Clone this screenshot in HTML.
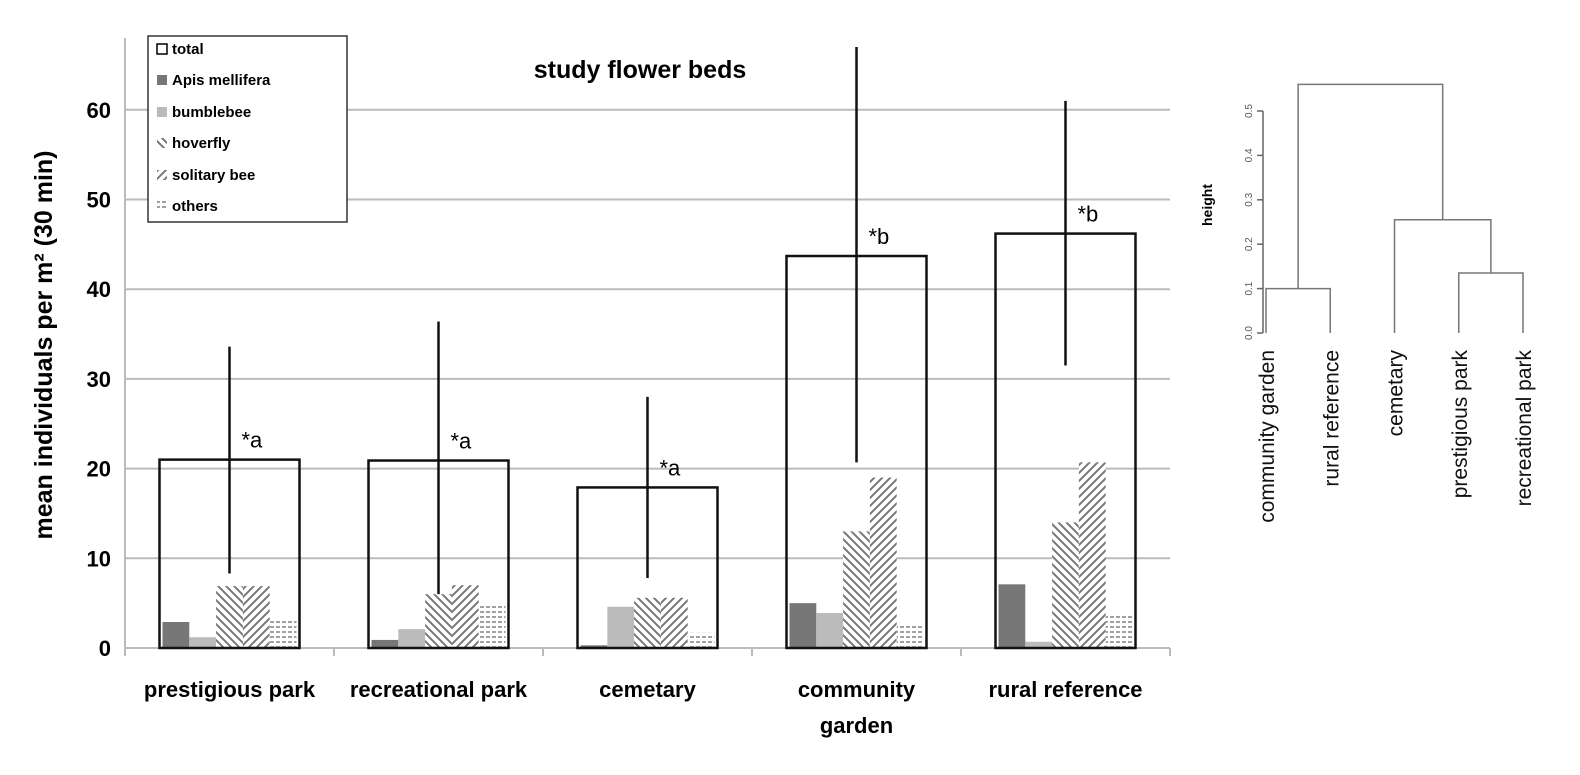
<!DOCTYPE html>
<html><head><meta charset="utf-8"><style>
body{margin:0;background:#fff;width:1580px;height:770px;overflow:hidden;font-family:"Liberation Sans",sans-serif}
svg text{font-family:"Liberation Sans",sans-serif}
</style></head><body>
<svg id="c" width="1580" height="770" xmlns="http://www.w3.org/2000/svg">
<defs>
<pattern id="hov" width="8" height="8" patternUnits="userSpaceOnUse"><rect width="8" height="8" fill="#fff"/><path d="M-2,-2 L10,10 M-6,2 L6,14 M2,-6 L14,6" stroke="#777" stroke-width="2"/></pattern>
<pattern id="sol" width="8" height="8" patternUnits="userSpaceOnUse"><rect width="8" height="8" fill="#fff"/><path d="M-2,10 L10,-2 M-6,6 L6,-6 M2,14 L14,2" stroke="#777" stroke-width="2"/></pattern>
<pattern id="oth" width="6" height="5" patternUnits="userSpaceOnUse"><rect width="6" height="5" fill="#fff"/><path d="M0,2 L4,2" stroke="#888" stroke-width="1.6"/></pattern>
</defs>
<g id="grid"></g><g id="bars"></g><g id="dendro"></g>
<text x="640" y="78" text-anchor="middle" font-size="25" font-weight="bold">study flower beds</text>
<text transform="translate(52,345) rotate(-90)" text-anchor="middle" font-size="25" font-weight="bold">mean individuals per m² (30 min)</text>
<g>
<rect x="148" y="36" width="199" height="186" fill="#fff" stroke="#333" stroke-width="1.5"/>
<g font-size="15" font-weight="bold">
<rect x="157" y="44" width="10" height="10" fill="#fff" stroke="#000" stroke-width="1.5"/><text x="172" y="54">total</text>
<rect x="157" y="75" width="10" height="10" fill="#777"/><text x="172" y="85">Apis mellifera</text>
<rect x="157" y="107" width="10" height="10" fill="#bbb"/><text x="172" y="117">bumblebee</text>
<rect x="157" y="138" width="10" height="10" fill="url(#hov)"/><text x="172" y="148">hoverfly</text>
<rect x="157" y="170" width="10" height="10" fill="url(#sol)"/><text x="172" y="180">solitary bee</text>
<rect x="157" y="201" width="10" height="10" fill="url(#oth)"/><text x="172" y="211">others</text>
</g></g>
</svg>
<script>
const categories=["prestigious park","recreational park","cemetary","community garden","rural reference"];
const totals=[21,20.9,17.9,43.7,46.2];
const apis=[2.9,0.9,0.3,5,7.1];
const bumblebee=[1.2,2.1,4.6,3.9,0.7];
const hoverfly=[6.9,6,5.6,13,14];
const solitary=[6.9,7,5.6,19,20.7];
const others=[3.1,5,1.7,2.5,3.7];
const errLow=[8.3,6,7.8,20.7,31.5];
const errHigh=[33.6,36.4,28,67,61];
const letters=["*a","*a","*a","*b","*b"];
const yTicks=[0,10,20,30,40,50,60];
const leaves=["community garden","rural reference","cemetary","prestigious park","recreational park"];
const merges=[[0,1,0.1],[3,4,0.135],[2,6,0.255],[5,7,0.56]];
const dTicks=[0,0.1,0.2,0.3,0.4,0.5];
const NS="http://www.w3.org/2000/svg";
function mk(p,t,a){const e=document.createElementNS(NS,t);for(const k in a)e.setAttribute(k,a[k]);p.appendChild(e);return e;}
const x0=125,x1=1170,yb=648,ppu=8.97;
const Y=v=>yb-v*ppu, bw=(x1-x0)/5, X=i=>x0+bw*(i+0.5);
const g=document.getElementById('grid'),b=document.getElementById('bars'),d=document.getElementById('dendro');
yTicks.forEach(t=>{
 if(t>0){const l=mk(g,'line',{x1:x0,x2:x1,y1:Y(t),y2:Y(t),stroke:'#bbb','stroke-width':2});
 
 }
 const tx=mk(g,'text',{x:x0-14,y:Y(t)+8,'text-anchor':'end','font-size':22,'font-weight':'bold'});tx.textContent=t;
 
 
});
mk(g,'line',{x1:x0,x2:x0,y1:38,y2:yb,stroke:'#bbb','stroke-width':2});
mk(g,'line',{x1:x0,x2:x1,y1:yb,y2:yb,stroke:'#bbb','stroke-width':2});
for(let i=0;i<=5;i++)mk(g,'line',{x1:x0+bw*i,x2:x0+bw*i,y1:yb,y2:yb+8,stroke:'#bbb','stroke-width':2});
const series=[[apis,'#777'],[bumblebee,'#bbb'],[hoverfly,'url(#hov)'],[solitary,'url(#sol)'],[others,'url(#oth)']];
categories.forEach((c,i)=>{
 const cx=X(i),tw=140,left=cx-tw/2,sw=(tw-6)/5;
 series.forEach((s,j)=>{const r=mk(b,'rect',{x:left+3+j*sw,y:Y(s[0][i]),width:sw,height:s[0][i]*ppu,fill:s[1]});
  
  });
 const t=mk(b,'rect',{x:left,y:Y(totals[i]),width:tw,height:totals[i]*ppu,fill:'none',stroke:'#111','stroke-width':2.5});
 
 
 const e=mk(b,'line',{x1:cx,x2:cx,y1:Y(errHigh[i]),y2:Y(errLow[i]),stroke:'#111','stroke-width':2.5});
 
 
 const lt=mk(b,'text',{x:cx+12,y:Y(totals[i])-12,'font-size':22});lt.textContent=letters[i];
 
 
 const words=c==="community garden"?["community","garden"]:[c];
 words.forEach((w,k)=>{const tx=mk(b,'text',{x:cx,y:697+k*36,'text-anchor':'middle','font-size':22,'font-weight':'bold'});tx.textContent=w;
  
  });
});
// dendrogram
const dy0=333,dppu=444,DY=v=>dy0-v*dppu,lx0=1266,lstep=64.25,LX=i=>lx0+i*lstep;
mk(d,'line',{x1:1263,x2:1263,y1:DY(0),y2:DY(0.5),stroke:'#666','stroke-width':1.5});
dTicks.forEach(t=>{mk(d,'line',{x1:1257,x2:1263,y1:DY(t),y2:DY(t),stroke:'#666','stroke-width':1.5});
 const tx=mk(d,'text',{transform:`translate(1252,${DY(t)}) rotate(-90)`,'text-anchor':'middle','font-size':10,fill:'#555'});tx.textContent=t.toFixed(1);
 
 });
const ht=mk(d,'text',{transform:'translate(1212,205) rotate(-90)','text-anchor':'middle','font-size':14,'font-weight':'bold'});ht.textContent='height';
const nodes=leaves.map((l,i)=>({x:LX(i),h:0}));
merges.forEach(m=>{const a=nodes[m[0]],c=nodes[m[1]],h=m[2];
 const p=mk(d,'path',{d:`M${a.x},${DY(a.h)}V${DY(h)}H${c.x}V${DY(c.h)}`,fill:'none',stroke:'#777','stroke-width':1.5});
 
 
 nodes.push({x:(a.x+c.x)/2,h:h});});
leaves.forEach((l,i)=>{const tx=mk(d,'text',{transform:`translate(${LX(i)+8},350) rotate(-90)`,'text-anchor':'end','font-size':21,fill:'#111'});tx.textContent=l;
 
 });
</script>
</body></html>
